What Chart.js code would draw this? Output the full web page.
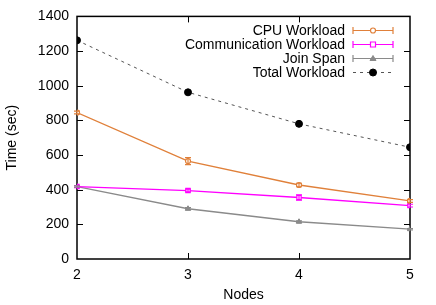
<!DOCTYPE html>
<html><head><meta charset="utf-8">
<script src="https://cdn.jsdelivr.net/npm/chart.js@4"></script>
<style>html,body{margin:0;padding:0;background:#fff}#wrap{width:436px;height:305px}</style>
</head><body><div id="wrap"><canvas id="c" width="436" height="305"></canvas></div>
<script>
const nodes = [2, 3, 4, 5];
const cpuWorkload = [845, 565, 427, 335];
const cpuErr = [8, 20, 10, 8];
const commWorkload = [418, 395, 355, 308];
const commErr = [6, 8, 15, 8];
const joinSpan = [418, 290, 215, 172];
const joinErr = [4, 6, 5, 4];
const totalWorkload = [1262, 962, 780, 645];
const yTicks = [0, 200, 400, 600, 800, 1000, 1200, 1400];
const seriesNames = ['CPU Workload', 'Communication Workload', 'Join Span', 'Total Workload'];

const FONT = '"Liberation Sans", Arial, sans-serif';
const COL_CPU = '#e0803a', COL_COMM = '#ff00ff', COL_JOIN = '#8a8a8a', COL_TOT = '#000000';

const pts = arr => nodes.map((x, i) => ({x, y: arr[i]}));

const datasets = [
  {label: seriesNames[0], data: pts(cpuWorkload), borderColor: COL_CPU, backgroundColor: 'rgba(0,0,0,0)', borderWidth: 1.3, pointStyle: 'circle', pointRadius: 2.5, pointBorderWidth: 1.2, pointBorderColor: COL_CPU, pointBackgroundColor: '#fff', errs: cpuErr, tension: 0},
  {label: seriesNames[1], data: pts(commWorkload), borderColor: COL_COMM, backgroundColor: 'rgba(0,0,0,0)', borderWidth: 1.3, pointStyle: 'rect', pointRadius: 3, pointBorderWidth: 1.2, pointBorderColor: COL_COMM, pointBackgroundColor: '#fff', errs: commErr, tension: 0},
  {label: seriesNames[2], data: pts(joinSpan), borderColor: COL_JOIN, backgroundColor: COL_JOIN, borderWidth: 1.3, pointStyle: 'triangle', pointRadius: 3, pointBorderWidth: 1, pointBorderColor: COL_JOIN, pointBackgroundColor: COL_JOIN, errs: joinErr, tension: 0},
  {label: seriesNames[3], data: pts(totalWorkload), borderColor: '#555555', backgroundColor: COL_TOT, borderWidth: 1, borderDash: [3, 4], pointStyle: 'circle', pointRadius: 3.5, pointBorderWidth: 1, pointBackgroundColor: COL_TOT, pointBorderColor: COL_TOT, tension: 0}
];

const frame = {
  id: 'frame',
  beforeDatasetsDraw(chart) {
    const {ctx, chartArea: a, scales: {x, y}} = chart;
    ctx.save();
    ctx.strokeStyle = '#000'; ctx.lineWidth = 1;
    yTicks.forEach(v => {
      if (v === 0 || v === 1400) return;
      const py = Math.round(y.getPixelForValue(v)) + 0.5;
      ctx.beginPath(); ctx.moveTo(a.left, py); ctx.lineTo(a.left + 6, py); ctx.stroke();
      ctx.beginPath(); ctx.moveTo(a.right, py); ctx.lineTo(a.right - 6, py); ctx.stroke();
    });
    nodes.forEach(v => {
      if (v === 2 || v === 5) return;
      const px = Math.round(x.getPixelForValue(v)) + 0.5;
      ctx.beginPath(); ctx.moveTo(px, a.bottom); ctx.lineTo(px, a.bottom - 6); ctx.stroke();
      ctx.beginPath(); ctx.moveTo(px, a.top); ctx.lineTo(px, a.top + 6); ctx.stroke();
    });
    ctx.lineWidth = 1.5;
    ctx.strokeRect(a.left, a.top, a.right - a.left, a.bottom - a.top);
    ctx.restore();
  },
  afterDatasetsDraw(chart) {
    const {ctx, scales: {x, y}} = chart;
    ctx.save();
    chart.data.datasets.forEach(ds => {
      if (!ds.errs) return;
      ctx.strokeStyle = ds.borderColor; ctx.lineWidth = 1.2;
      ds.data.forEach((p, i) => {
        const px = x.getPixelForValue(p.x);
        const y1 = y.getPixelForValue(p.y - ds.errs[i]);
        const y2 = y.getPixelForValue(p.y + ds.errs[i]);
        ctx.beginPath();
        ctx.moveTo(px, y1); ctx.lineTo(px, y2);
        ctx.moveTo(px - 3, y1); ctx.lineTo(px + 3, y1);
        ctx.moveTo(px - 3, y2); ctx.lineTo(px + 3, y2);
        ctx.stroke();
      });
    });
    // legend
    ctx.font = '14px ' + FONT;
    ctx.textAlign = 'right'; ctx.textBaseline = 'middle';
    const textR = 345, s1 = 353, s2 = 393, mid = 373;
    chart.data.datasets.forEach((ds, i) => {
      const ly = 30.5 + i * 14;
      ctx.fillStyle = '#000';
      ctx.fillText(ds.label, textR, ly + 0.5);
      ctx.save();
      if (ds.errs) {
        ctx.strokeStyle = ds.borderColor; ctx.lineWidth = 1.2;
        ctx.beginPath();
        ctx.moveTo(s1, ly); ctx.lineTo(s2, ly);
        ctx.moveTo(s1, ly - 3.5); ctx.lineTo(s1, ly + 3.5);
        ctx.moveTo(s2, ly - 3.5); ctx.lineTo(s2, ly + 3.5);
        ctx.stroke();
      } else {
        ctx.strokeStyle = ds.borderColor; ctx.lineWidth = 1; ctx.setLineDash([3, 4]);
        ctx.beginPath(); ctx.moveTo(s1, ly); ctx.lineTo(s2, ly); ctx.stroke();
        ctx.setLineDash([]);
      }
      ctx.fillStyle = ds.pointBackgroundColor;
      ctx.strokeStyle = ds.pointBorderColor;
      ctx.lineWidth = ds.pointBorderWidth;
      ctx.beginPath();
      if (ds.pointStyle === 'circle') ctx.arc(mid, ly, ds.pointRadius, 0, Math.PI * 2);
      else if (ds.pointStyle === 'rect') ctx.rect(mid - 2.5, ly - 2.5, 5, 5);
      else { ctx.moveTo(mid, ly - 3); ctx.lineTo(mid + 3, ly + 2); ctx.lineTo(mid - 3, ly + 2); ctx.closePath(); }
      ctx.fill();
      ctx.stroke();
      ctx.restore();
    });
    ctx.restore();
  }
};

new Chart(document.getElementById('c'), {
  type: 'line',
  data: {datasets},
  options: {
    responsive: false, animation: false, devicePixelRatio: 1,
    layout: {padding: {top: 16, right: 26, left: 4, bottom: 1}},
    plugins: {legend: {display: false}, tooltip: {enabled: false}},
    scales: {
      x: {
        type: 'linear', min: 2, max: 5,
        afterBuildTicks: s => { s.ticks = nodes.map(v => ({value: v})); },
        afterFit: s => { s.height = 45; },
        grid: {display: false, drawTicks: false},
        border: {display: false},
        ticks: {color: '#000', padding: 8, font: {family: FONT, size: 14}, maxRotation: 0, callback: v => String(v)},
        title: {display: true, text: 'Nodes', color: '#000', font: {family: FONT, size: 14}, padding: {top: 0, bottom: 0}}
      },
      y: {
        min: 0, max: 1400,
        afterBuildTicks: s => { s.ticks = yTicks.map(v => ({value: v})); },
        afterFit: s => { s.width = 73; },
        grid: {display: false, drawTicks: false},
        border: {display: false},
        ticks: {color: '#000', padding: 8, font: {family: FONT, size: 14}, callback: v => String(v)},
        title: {display: true, text: 'Time (sec)', color: '#000', font: {family: FONT, size: 14}, padding: {top: 0, bottom: 4}}
      }
    }
  },
  plugins: [frame]
});
</script>
</body></html>
